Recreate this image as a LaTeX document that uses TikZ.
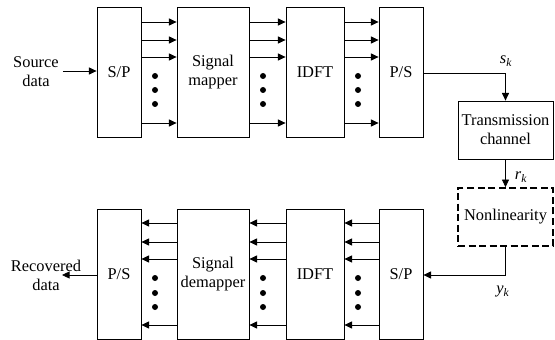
\documentclass[tikz,border=0pt]{standalone}
\usepackage{fontspec}
\setmainfont{LiberationSerif}[Extension=.ttf, UprightFont=*-Regular, ItalicFont=*-Italic, BoldFont=*-Bold, BoldItalicFont=*-BoldItalic]
\usetikzlibrary{arrows.meta}

\tikzset{
  blk/.style={draw, line width=0.7pt, align=center, inner sep=0pt},
  tall/.style={blk, minimum height=130*0.03cm},
  arr/.style={line width=0.7pt, -{Triangle[length=6.5pt,width=6pt]}},
  dotc/.style={circle, fill, inner sep=0pt, minimum size=6*0.03cm},
}
\newcommand{\sym}[2]{\textit{#1}\textsubscript{\textit{#2}}}

\begin{document}
\begin{tikzpicture}[x=0.03cm, y=-0.03cm, font=\rmfamily\fontsize{14}{16.2}\selectfont]
\useasboundingbox (0,0) rectangle (555,340);

% transmitter
\node[tall, minimum width=44*0.03cm] (sp) at (119,72) {S/P};
\node[tall, minimum width=72*0.03cm] (mapper) at (213,72) {Signal\\mapper};
\node[tall, minimum width=58*0.03cm] (idft) at (315,72) {IDFT};
\node[tall, minimum width=44*0.03cm] (ps) at (401,72) {P/S};
\node[align=center] (src) at (36,72) {Source\\data};

% receiver
\node[tall, minimum width=44*0.03cm] (rps) at (119,274) {P/S};
\node[tall, minimum width=72*0.03cm] (demapper) at (213,274) {Signal\\demapper};
\node[tall, minimum width=58*0.03cm] (ridft) at (315,274) {IDFT};
\node[tall, minimum width=44*0.03cm] (rsp) at (401,274) {S/P};
\node[align=center] (rec) at (46,275) {Recovered\\data};
\coordinate (recend) at (62,275);

% channel
\node[blk, minimum width=95*0.03cm, minimum height=58*0.03cm] (chan) at (505.5,130) {Transmission\\channel};
\node[blk, dashed, line width=1.4pt, dash pattern=on 6pt off 3pt,
      minimum width=95*0.03cm, minimum height=58*0.03cm] (nonlin) at (505.5,217) {Nonlinearity};

\draw[arr] (src.east |- 0,71) -- (sp.west |- 0,71);
\foreach \y in {22,40,57,123} {
  \draw[arr] (sp.east |- 0,\y) -- (mapper.west |- 0,\y);
  \draw[arr] (mapper.east |- 0,\y) -- (idft.west |- 0,\y);
  \draw[arr] (idft.east |- 0,\y) -- (ps.west |- 0,\y);
}
\foreach \y in {223,242,259,325} {
  \draw[arr] (demapper.west |- 0,\y) -- (rps.east |- 0,\y);
  \draw[arr] (ridft.west |- 0,\y) -- (demapper.east |- 0,\y);
  \draw[arr] (rsp.west |- 0,\y) -- (ridft.east |- 0,\y);
}
\foreach \x in {155,263,358} {
  \foreach \y in {76,90,104,278,293,307}
    \node[dotc] at (\x,\y) {};
}

\draw[arr] (ps.east |- 0,73) -| (chan.north);
\draw[arr] (chan.south) -- (nonlin.north);
\draw[arr] (nonlin.south) |- (rsp.east |- 0,275);
\draw[arr] (rps.west |- 0,275) -- (recend);

\node at (506,61) {\sym{s}{k}};
\node at (521,177) {\sym{r}{k}};
\node at (503,292) {\sym{y}{k}};
\end{tikzpicture}
\end{document}
